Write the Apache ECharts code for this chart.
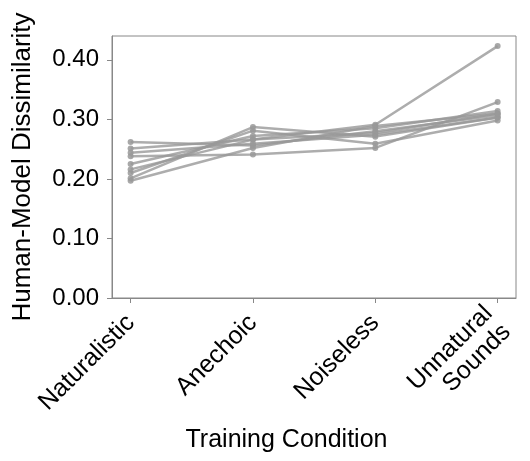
<!DOCTYPE html>
<html>
<head>
<meta charset="utf-8">
<script src="https://cdn.jsdelivr.net/npm/echarts@6/dist/echarts.min.js"></script>
<style>
  html, body { margin: 0; padding: 0; background: #fff; }
  #chart { width: 530px; height: 461px; }
</style>
</head>
<body>
<div id="chart"></div>
<script>
// training conditions on the x axis
const categories = ['Naturalistic', 'Anechoic', 'Noiseless', 'Unnatural\nSounds']
const yTicks = [0, 0.1, 0.2, 0.3, 0.4]

// one line per model
const model1 = [0.262, 0.256, 0.280, 0.307]
const model2 = [0.251, 0.266, 0.291, 0.423]
const model3 = [0.244, 0.259, 0.274, 0.303]
const model4 = [0.238, 0.241, 0.252, 0.329]
const model5 = [0.225, 0.272, 0.285, 0.314]
const model6 = [0.216, 0.266, 0.277, 0.310]
const model7 = [0.210, 0.281, 0.259, 0.298]
const model8 = [0.201, 0.287, 0.271, 0.303]
const model9 = [0.197, 0.252, 0.289, 0.310]
const models = [model1, model2, model3, model4, model5, model6, model7, model8, model9]

const font = 'Liberation Sans, Arial, sans-serif'
const gray = '#888'

const chart = echarts.init(document.getElementById('chart'))

const option = {
  animation: false,
  grid: {
    left: 112,
    right: 14,
    top: 36,
    bottom: 163,
    show: true,
    borderColor: gray,
    borderWidth: 1
  },
  xAxis: {
    type: 'value',
    min: -0.152,
    max: 3.15,
    splitLine: { show: false },
    axisLine: { onZero: false, lineStyle: { color: gray } },
    axisTick: {
      customValues: [0, 1, 2, 3],
      length: 5,
      lineStyle: { color: gray }
    },
    axisLabel: {
      customValues: [0, 1, 2, 3],
      formatter: v => categories[Math.round(v)],
      rotate: 45,
      margin: 21,
      fontFamily: font,
      fontSize: 25,
      color: '#000',
      align: 'right',
      lineHeight: 26
    },
    name: 'Training Condition',
    nameLocation: 'middle',
    nameGap: 130,
    nameTextStyle: {
      fontFamily: font,
      fontSize: 25,
      color: '#000',
      padding: [0, 55, 0, 0]
    }
  },
  yAxis: {
    type: 'value',
    min: 0,
    max: 0.44,
    splitLine: { show: false },
    axisLine: { show: true, onZero: false, lineStyle: { color: gray } },
    axisTick: {
      show: true,
      customValues: yTicks,
      length: 5,
      lineStyle: { color: gray }
    },
    axisLabel: {
      customValues: yTicks,
      formatter: v => v.toFixed(2),
      margin: 13,
      fontFamily: font,
      fontSize: 24,
      color: '#000'
    },
    name: 'Human-Model Dissimilarity',
    nameLocation: 'middle',
    nameGap: 76,
    nameTextStyle: {
      fontFamily: font,
      fontSize: 26,
      color: '#000'
    }
  },
  series: models.map((vals, k) => ({
    name: 'model ' + (k + 1),
    type: 'line',
    data: vals.map((v, i) => [i, v]),
    symbol: 'circle',
    symbolSize: 6,
    lineStyle: { color: '#999', width: 2.5, opacity: 0.8 },
    itemStyle: { color: '#999', opacity: 0.85 }
  }))
}

chart.setOption(option)
</script>
</body>
</html>
